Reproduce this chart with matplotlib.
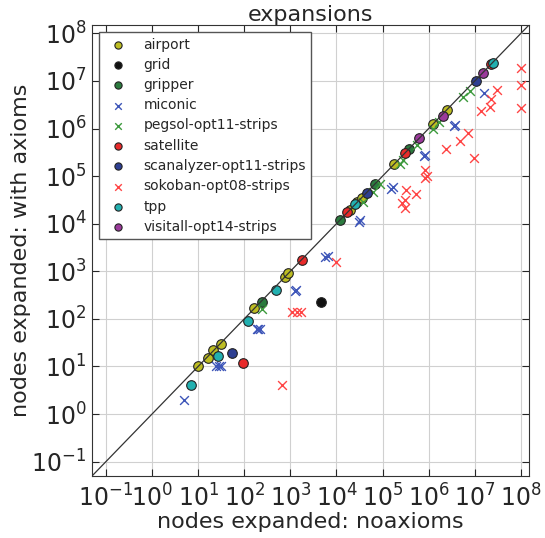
import matplotlib
matplotlib.use("Agg")
import matplotlib.pyplot as plt
import numpy as np

plt.rcParams['font.family'] = ['DejaVu Sans']
plt.rcParams['text.color'] = '#262626'
plt.rcParams['axes.labelcolor'] = '#262626'
plt.rcParams['xtick.color'] = '#262626'
plt.rcParams['ytick.color'] = '#262626'

categories = ["airport", "grid", "gripper", "miconic", "pegsol-opt11-strips",
              "satellite", "scanalyzer-opt11-strips", "sokoban-opt08-strips",
              "tpp", "visitall-opt14-strips"]

airport_x = [10, 16, 21, 31, 163, 770, 910, 20000, 28500, 35500, 178000, 1.23e6, 2.45e6]
airport_y = [10, 15, 22, 29, 171, 770, 910, 19000, 29000, 34000, 178000, 1.26e6, 2.4e6]

grid_x = [4600]
grid_y = [230]

gripper_x = [240, 12000, 67000, 380000]
gripper_y = [225, 11800, 67000, 378000]

miconic_x = [5, 25, 28, 32, 190, 200, 215, 1250, 1350, 5600, 6500, 31000, 33000,
             150000, 165000, 780000, 820000, 3.5e6, 3.7e6, 1.6e7]
miconic_y = [2, 10, 10, 10, 60, 62, 60, 390, 410, 2000, 2150, 11000, 11800,
             55000, 58000, 265000, 280000, 1.12e6, 1.2e6, 5.5e6]

pegsol_x = [246, 38000, 62000, 89000, 240000, 275000, 550000, 1.26e6, 1.7e6, 5.5e6, 7.9e6]
pegsol_y = [162, 29000, 47000, 67000, 183000, 215000, 446000, 1.0e6, 1.35e6, 4.6e6, 6.3e6]

satellite_x = [93, 1770, 17000, 309000, 2.3e7]
satellite_y = [12, 1770, 17700, 305000, 2.3e7]

scanalyzer_x = [54, 46000, 1.07e7]
scanalyzer_y = [19, 45000, 9.9e6]

sokoban_x = [650, 1100, 1400, 1700, 10000, 260000, 300000, 310000, 320000, 530000,
             850000, 820000, 900000, 2.4e6, 4.8e6, 7.2e6, 9.6e6, 1.35e7, 2.1e7, 2.3e7,
             3.1e7, 1e8, 1e8, 1e8]
sokoban_y = [4, 140, 140, 140, 1600, 27000, 32000, 21000, 50000, 42000,
             135000, 90000, 100000, 378000, 560000, 815000, 246000, 2.35e6, 2.8e6, 4.2e6,
             6.6e6, 1.87e7, 8.3e6, 2.7e6]

tpp_x = [7, 27, 120, 500, 25000, 2.5e7]
tpp_y = [4, 17, 91, 410, 25700, 2.4e7]

visitall_x = [630000, 2.0e6, 1.5e7]
visitall_y = [645000, 1.87e6, 1.5e7]

series = [
    (airport_x, airport_y, 'o', '#bdbd22'),
    (grid_x, grid_y, 'o', '#111111'),
    (gripper_x, gripper_y, 'o', '#2b7a3e'),
    (miconic_x, miconic_y, 'x', '#3d55b8'),
    (pegsol_x, pegsol_y, 'x', '#3d9a3d'),
    (satellite_x, satellite_y, 'o', '#e82a2a'),
    (scanalyzer_x, scanalyzer_y, 'o', '#2e3f92'),
    (sokoban_x, sokoban_y, 'x', '#ff4444'),
    (tpp_x, tpp_y, 'o', '#22b0b0'),
    (visitall_x, visitall_y, 'o', '#9b3a9b'),
]

fig = plt.figure(figsize=(5.45, 5.38), dpi=100)
ax = fig.add_axes([92/545, 62/538, 437/545, 451/538])

for name, (xs, ys, m, c) in zip(categories, series):
    if m == 'o':
        ax.scatter(xs, ys, s=48, marker='o', facecolor=c, edgecolor='#222222',
                   linewidth=0.8, label=name, zorder=3)
    else:
        ax.scatter(xs, ys, s=40, marker='x', color=c, linewidth=1.0,
                   label=name, zorder=3)

lo, hi = 0.05, 1.5e8
ax.plot([lo, hi], [lo, hi], color='#333333', linewidth=0.9, zorder=4)

ax.set_xscale('log')
ax.set_yscale('log')
ax.set_xlim(lo, hi)
ax.set_ylim(lo, hi)
ax.set_xticks([10.0**k for k in range(-1, 9)])
ax.set_yticks([10.0**k for k in range(-1, 9)])

ax.grid(True, which='major', color='#d0d0d0', linewidth=0.8)
ax.set_axisbelow(True)
ax.tick_params(which='both', direction='in', top=True, right=True, labelsize=17)
ax.tick_params(which='major', length=5)
ax.tick_params(which='minor', length=2.5)
ax.tick_params(axis='x', which='major', pad=6)
ax.tick_params(axis='y', which='major', pad=4)
for s in ax.spines.values():
    s.set_color('#333333')

ax.set_xlabel('nodes expanded: noaxioms', fontsize=16, labelpad=0)
ax.set_ylabel('nodes expanded: with axioms', fontsize=16, labelpad=0)
ax.set_title('expansions', fontsize=16, pad=0)

leg = ax.legend(loc='upper left', fontsize=10, scatterpoints=1, markerscale=0.75,
                fancybox=False, framealpha=1, edgecolor='#555555',
                borderaxespad=0.5, labelspacing=0.45)
leg.get_frame().set_linewidth(1.0)

fig.savefig('out.png', dpi=100)
